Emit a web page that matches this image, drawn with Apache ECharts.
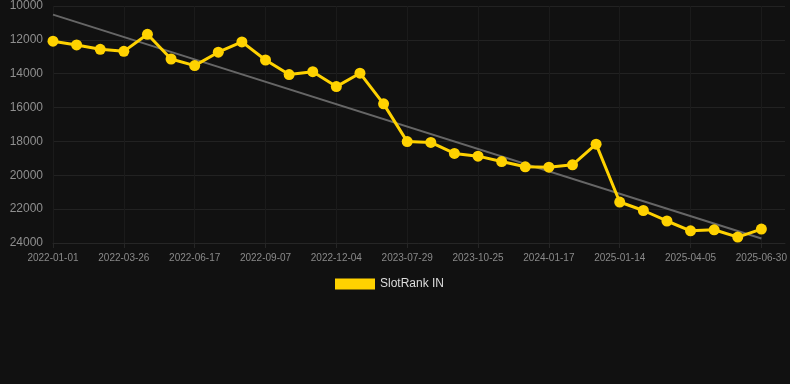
<!DOCTYPE html>
<html>
<head>
<meta charset="utf-8">
<script src="https://cdn.jsdelivr.net/npm/echarts@6/dist/echarts.min.js"></script>
<style>
  html, body { margin: 0; padding: 0; background: #111111; }
  #chart { width: 790px; height: 384px; }
</style>
</head>
<body>
<div id="chart"></div>
<script>
const dates = [
  '2022-01-01', '2022-01-29', '2022-02-26', '2022-03-26', '2022-04-23', '2022-05-21',
  '2022-06-17', '2022-07-15', '2022-08-12', '2022-09-07', '2022-10-05', '2022-11-06',
  '2022-12-04', '2023-03-10', '2023-05-20', '2023-07-29', '2023-08-26', '2023-09-27',
  '2023-10-25', '2023-11-22', '2023-12-20', '2024-01-17', '2024-02-14', '2024-03-13',
  '2025-01-14', '2025-02-11', '2025-03-08', '2025-04-05', '2025-05-03', '2025-06-01',
  '2025-06-30'
]
const rank = [
  12080, 12300, 12560, 12680, 11670, 13130,
  13520, 12730, 12120, 13190, 14050, 13880,
  14760, 13970, 15780, 18010, 18060, 18710,
  18870, 19190, 19500, 19520, 19380, 18160,
  21580, 22080, 22700, 23280, 23220, 23650,
  23180
]
// trend line endpoints
const trendStart = 10510
const trendEnd = 23730
const yTicks = [10000, 24000, 2000]

const categories = dates.concat([''])
const trend = dates.map((d, i) => (i === 0 ? trendStart : i === dates.length - 1 ? trendEnd : null))

var myChart = echarts.init(document.getElementById('chart'))
var option = {
  backgroundColor: '#111111',
  animation: false,
  grid: {
    left: 53,
    right: 5,
    top: 6,
    bottom: 141,
  },
  legend: {
    data: ['SlotRank IN'],
    top: 278,
    left: 335,
    padding: 0,
    icon: 'rect',
    itemWidth: 40,
    itemHeight: 11,
    itemGap: 10,
    textStyle: { color: '#dddddd', fontSize: 12, fontFamily: 'Liberation Sans, Arial, sans-serif' },
  },
  xAxis: {
    type: 'category',
    data: categories,
    boundaryGap: false,
    axisLine: { show: true, lineStyle: { color: '#262626' } },
    axisTick: { show: true, interval: 2, lineStyle: { color: '#262626' } },
    axisLabel: {
      interval: 2,
      color: '#8a8a8a',
      fontSize: 10,
      margin: 10,
      fontFamily: 'Liberation Sans, Arial, sans-serif',
    },
    splitLine: { show: true, interval: 2, lineStyle: { color: '#1b1b1b' } },
  },
  yAxis: {
    type: 'value',
    inverse: true,
    min: yTicks[0],
    max: yTicks[1],
    interval: yTicks[2],
    axisLine: { show: false },
    axisTick: { show: false },
    axisLabel: {
      color: '#8f8f8f',
      fontSize: 12,
      margin: 10,
      formatter: (v) => String(v),
      fontFamily: 'Liberation Sans, Arial, sans-serif',
    },
    splitLine: { show: true, lineStyle: { color: '#222222' } },
  },
  series: [
    {
      name: 'Trend',
      type: 'line',
      data: trend,
      connectNulls: true,
      showSymbol: false,
      symbol: 'none',
      lineStyle: { color: '#666666', width: 2 },
      z: 3,
    },
    {
      name: 'SlotRank IN',
      type: 'line',
      data: rank,
      symbol: 'circle',
      symbolSize: 11,
      itemStyle: { color: '#ffd200' },
      lineStyle: { color: '#ffd200', width: 3 },
      z: 4,
    },
  ],
}
option && myChart.setOption(option)
window.addEventListener('resize', function () {
  myChart.resize()
})
</script>
</body>
</html>
